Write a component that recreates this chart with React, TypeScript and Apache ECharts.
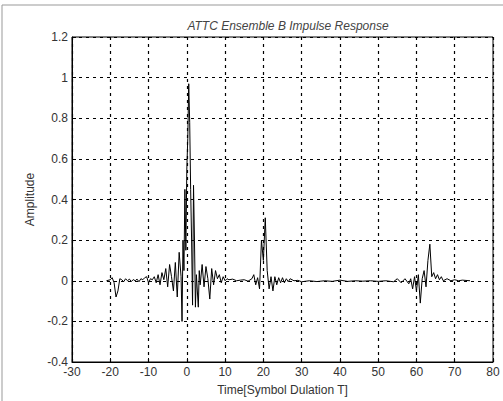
import React, { useEffect, useRef } from "react";
import * as echarts from "echarts";

const titleText = "ATTC Ensemble B Impulse Response";
const xName = "Time[Symbol Dulation T]";
const yName = "Amplitude";

const timeValues = [
  -21, -20, -19.5, -19, -18.5, -18, -17.5, -17, -16.5, -16, -15.5, -15, -14.5, -14, -13.5, -13,
  -12.5, -12, -11.5, -11, -10.5, -10, -9.5, -9, -8.5, -8, -7.5, -7, -6.5, -6, -5.5, -5, -4.5, -4,
  -3.5, -3, -2.5, -2, -1.5, -1.25, -1, -0.75, -0.5, -0.25, 0, 0.25, 0.5, 0.75, 1, 1.25, 1.5, 1.75,
  2, 2.25, 2.5, 3, 3.25, 3.5, 4, 4.5, 5, 5.5, 6, 6.5, 7, 7.5, 8, 8.5, 9, 9.5, 10, 10.5, 11, 12, 13,
  14, 15, 16, 17, 17.5, 18, 18.5, 19, 19.5, 20, 20.5, 21, 21.5, 22, 22.5, 23, 23.5, 24, 24.5, 25,
  25.5, 26, 26.5, 27, 28, 29, 30, 32, 34, 36, 38, 40, 42, 44, 46, 48, 50, 52, 54, 55, 56, 57, 58,
  58.5, 59, 59.5, 60, 60.5, 61, 61.5, 62, 62.5, 63, 63.5, 64, 64.5, 65, 65.5, 66, 66.5, 67, 68, 69,
  70, 71, 72, 74,
];

const amplitudeValues = [
  0, 0.005, 0.015, -0.01, -0.08, -0.05, 0.01, 0.005, -0.005, 0.01, 0, 0.008, -0.004, 0.006, 0, 0.008,
  -0.005, 0.01, 0.005, 0.015, 0.02, -0.01, 0.01, 0.005, 0.02, -0.01, 0.03, -0.02, 0.04, 0.005, 0.06, -0.03, 0.08, 0.02,
  -0.05, 0.09, -0.08, 0.14, 0.02, -0.2, 0.2, 0.05, 0.45, 0.15, 0.55, 0.7, 0.97, 0.78, 0.45, 0.2, -0.12, 0.47,
  0.2, -0.13, 0.03, -0.13, 0.05, -0.02, 0.08, -0.03, 0.07, 0.01, -0.09, 0.06, -0.02, 0.05, 0.01, 0.03, -0.01, 0.02, 0, 0.01, 0.005, 0.008, 0,
  0.003, 0.005, -0.002, 0.01, 0.03, -0.02, 0.015, -0.04, 0.2, 0.1, 0.31, 0.05, -0.04, 0.02, -0.05, 0.02, -0.02, 0.015, -0.01, 0.015,
  -0.01, 0.01, -0.005, 0.01, 0, 0.002, -0.005, 0, -0.004, 0, -0.003, 0.003, -0.003, 0, -0.002, 0, -0.003, 0, -0.005, 0.01, -0.01, 0.01, -0.015,
  0.01, -0.04, 0.02, -0.05, 0.03, -0.11, 0.01, 0.05, -0.03, 0.1, 0.18, 0.02, 0.04, 0.01, 0.03, 0.005, 0.02, 0, 0.01, 0,
  0.005, 0, 0.003, 0,
];

const xMin = -30;
const xMax = 80;
const xStep = 10;
const yMin = -0.4;
const yMax = 1.2;
const yStep = 0.2;

export default function App() {
  const ref = useRef<HTMLDivElement>(null);

  useEffect(() => {
    if (!ref.current) return;
    const chart = echarts.init(ref.current, undefined, { renderer: "svg" });
    const data = timeValues.map((t, i) => [t, amplitudeValues[i]]);
    const font = "Liberation Sans, Arial, sans-serif";
    const gridLine = { show: true, lineStyle: { color: "#000", width: 1.2, type: [3, 4] as any } };
    chart.setOption({
      animation: false,
      backgroundColor: "#fff",
      title: {
        text: titleText,
        left: 283,
        top: 15,
        textAlign: "center",
        textStyle: { fontFamily: font, fontSize: 12, fontWeight: "normal", fontStyle: "italic", color: "#444" },
      },
      grid: { left: 72, right: 10, top: 37, bottom: 38, show: true, borderColor: "#000", borderWidth: 1, backgroundColor: "transparent" },
      xAxis: {
        type: "value",
        min: xMin,
        max: xMax,
        interval: xStep,
        name: xName,
        nameLocation: "middle",
        nameGap: 22,
        nameTextStyle: { fontFamily: font, fontSize: 12, color: "#333" },
        axisLine: { show: true, onZero: false, lineStyle: { color: "#000" } },
        axisTick: { show: true, inside: true, length: 4, lineStyle: { color: "#000" } },
        axisLabel: { fontFamily: font, fontSize: 12, color: "#333", margin: 4 },
        splitLine: gridLine,
      },
      yAxis: {
        type: "value",
        min: yMin,
        max: yMax,
        interval: yStep,
        name: yName,
        nameLocation: "middle",
        nameGap: 30,
        nameRotate: 90,
        nameTextStyle: { fontFamily: font, fontSize: 12, color: "#333" },
        axisLine: { show: true, onZero: false, lineStyle: { color: "#000" } },
        axisTick: { show: true, inside: true, length: 4, lineStyle: { color: "#000" } },
        axisLabel: { fontFamily: font, fontSize: 12, color: "#333", margin: 4 },
        splitLine: gridLine,
      },
      graphic: [
        {
          type: "rect",
          shape: { x: 2, y: 5, width: 540, height: 440 },
          style: { fill: "none", stroke: "#999", lineWidth: 1 },
          silent: true,
        },
      ],
      series: [
        {
          type: "line",
          data,
          symbol: "none",
          lineStyle: { color: "#000", width: 1 },
        },
      ],
    });
    return () => chart.dispose();
  }, []);

  return <div ref={ref} style={{ position: "fixed", left: 0, top: 0, width: 503, height: 401 }} />;
}
